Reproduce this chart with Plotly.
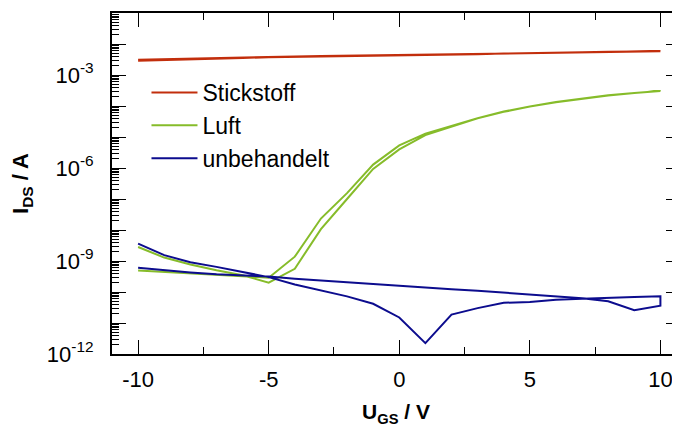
import plotly.graph_objects as go

# Gate voltage sweep points (V)
u_gs = [-10, -9, -8, -7, -6, -5, -4, -3, -2, -1, 0, 1, 2, 3, 4, 5, 6, 7, 8, 9, 10]

# Stickstoff: forward sweep (-10 -> 10) and backward sweep (values listed from -10 to 10)
stick_fwd = [3.09e-3, 3.24e-3, 3.39e-3, 3.55e-3, 3.72e-3, 3.89e-3, 3.98e-3, 4.07e-3, 4.17e-3, 4.27e-3,
             4.37e-3, 4.47e-3, 4.57e-3, 4.68e-3, 4.90e-3, 5.01e-3, 5.25e-3, 5.37e-3, 5.62e-3, 5.75e-3, 5.89e-3]
stick_bwd = [2.88e-3, 3.02e-3, 3.16e-3, 3.39e-3, 3.55e-3, 3.72e-3, 3.89e-3, 3.98e-3, 4.07e-3, 4.22e-3,
             4.32e-3, 4.47e-3, 4.57e-3, 4.68e-3, 4.90e-3, 5.01e-3, 5.25e-3, 5.37e-3, 5.62e-3, 5.75e-3, 5.89e-3]

# Luft
luft_fwd = [4.90e-10, 4.47e-10, 4.07e-10, 3.63e-10, 3.24e-10, 2.88e-10, 1.38e-9, 2.34e-8, 1.55e-7, 1.29e-6,
            5.37e-6, 1.29e-5, 2.29e-5, 4.07e-5, 6.61e-5, 9.70e-5, 1.34e-4, 1.76e-4, 2.21e-4, 2.65e-4, 3.02e-4]
luft_bwd = [2.82e-9, 1.29e-9, 7.76e-10, 5.01e-10, 3.47e-10, 2.00e-10, 5.62e-10, 1.07e-8, 1.00e-7, 9.33e-7,
            3.98e-6, 1.15e-5, 2.14e-5, 3.98e-5, 6.46e-5, 9.55e-5, 1.32e-4, 1.74e-4, 2.19e-4, 2.63e-4, 3.02e-4]

# unbehandelt
unbeh_fwd = [6.03e-10, 5.01e-10, 4.27e-10, 3.72e-10, 3.39e-10, 3.16e-10, 2.69e-10, 2.34e-10, 2.04e-10, 1.78e-10,
             1.55e-10, 1.38e-10, 1.23e-10, 1.10e-10, 9.55e-11, 8.51e-11, 7.59e-11, 6.31e-11, 5.01e-11, 2.57e-11, 3.63e-11]
unbeh_bwd = [3.63e-9, 1.55e-9, 9.12e-10, 6.46e-10, 4.47e-10, 3.02e-10, 1.74e-10, 1.12e-10, 7.24e-11, 4.17e-11,
             1.51e-11, 2.24e-12, 1.86e-11, 3.02e-11, 4.47e-11, 4.79e-11, 5.62e-11, 6.03e-11, 6.61e-11, 6.92e-11, 7.24e-11]

series_names = ["Stickstoff", "Luft", "unbehandelt"]
series_colors = ["#c22e0c", "#86bc2a", "#0c0c8e"]

x_tick_vals = [-10, -5, 0, 5, 10]
x_tick_text = ["-10", "-5", "0", "5", "10"]
y_decades = list(range(-12, 0))
y_label_decades = [-12, -9, -6, -3]

FONT = "Liberation Sans, Arial, Helvetica, sans-serif"

fig = go.Figure()
for name, color, fwd, bwd in zip(series_names, series_colors,
                                 [stick_fwd, luft_fwd, unbeh_fwd],
                                 [stick_bwd, luft_bwd, unbeh_bwd]):
    x = u_gs + u_gs[::-1]
    y = fwd + bwd[::-1]
    fig.add_trace(go.Scatter(x=x, y=y, mode="lines", name=name,
                             line=dict(color=color, width=2)))

major_vals = [10.0 ** d for d in y_decades]
major_text = [("10<sup>%d</sup>" % d) if d in y_label_decades else "" for d in y_decades]
minor_vals = [m * 10.0 ** d for d in y_decades for m in range(2, 10)]

fig.update_layout(
    width=672, height=421,
    margin=dict(l=104, r=0, t=5, b=75),
    paper_bgcolor="white", plot_bgcolor="white",
    font=dict(family=FONT, size=22, color="black"),
    showlegend=True,
    legend=dict(x=0.0607, y=0.830, xanchor="left", yanchor="top",
                font=dict(size=23, family=FONT, color="black"),
                bgcolor="rgba(0,0,0,0)", itemwidth=46, tracegroupgap=0),
    xaxis=dict(
        range=[-11, 10.75], tickmode="array", tickvals=x_tick_vals, ticktext=x_tick_text,
        ticks="inside", ticklen=14, tickwidth=1.2, tickcolor="black",
        showline=True, linewidth=2, linecolor="black", mirror="ticks",
        showgrid=False, zeroline=False, automargin=False,
        minor=dict(ticks="inside", dtick=2.5, tick0=0, ticklen=7, tickwidth=1.2,
                   tickcolor="black", showgrid=False),
        tickfont=dict(size=22, family=FONT),
        ticklabelstandoff=5,
        title=dict(text="<b>U<sub>GS</sub> / V</b>", font=dict(size=21, family=FONT), standoff=13),
    ),
    yaxis=dict(
        type="log", range=[-12, -1],
        tickmode="array", tickvals=major_vals, ticktext=major_text,
        ticks="inside", ticklen=14, tickwidth=1.2, tickcolor="black",
        showline=True, linewidth=2, linecolor="black", mirror="ticks",
        showgrid=False, zeroline=False, automargin=False,
        minor=dict(ticks="inside", tickmode="array", tickvals=minor_vals, ticklen=7,
                   tickwidth=1.2, tickcolor="black", showgrid=False),
        tickfont=dict(size=22, family=FONT),
        ticklabelstandoff=12,
        title=dict(text="<b>I<sub>DS</sub> / A</b>", font=dict(size=22, family=FONT), standoff=13),
    ),
)

fig.write_html("out.html")
